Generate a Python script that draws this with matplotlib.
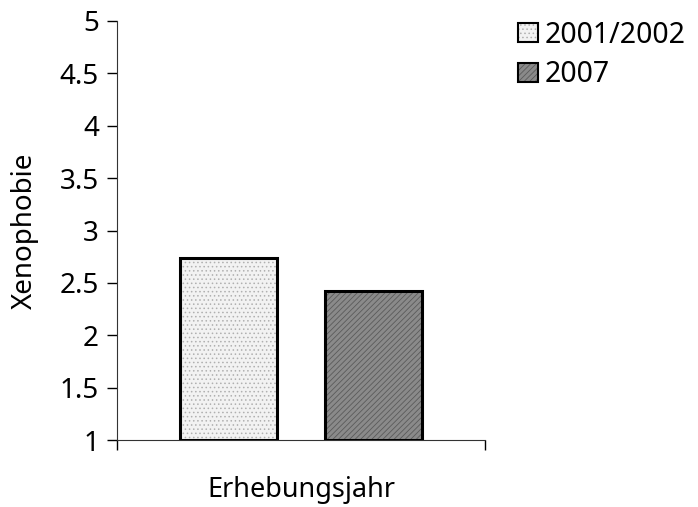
import matplotlib
matplotlib.use("Agg")
import matplotlib.pyplot as plt

# survey waves and mean xenophobia score
jahre = ["2001/2002", "2007"]
xenophobie = [2.74, 2.42]
y_ticks = [1, 1.5, 2, 2.5, 3, 3.5, 4, 4.5, 5]
y_ticklabels = ["1", "1.5", "2", "2.5", "3", "3.5", "4", "4.5", "5"]

plt.rcParams['font.family'] = ['Noto Sans', 'DejaVu Sans']
plt.rcParams['hatch.linewidth'] = 0.6

fig = plt.figure(figsize=(6.98, 5.07), dpi=100)
ax = fig.add_axes([0.1676, 0.1321, 0.5272, 0.8265])

positions = [-0.75, 0.75]
styles = [
    dict(facecolor="#f2f2f2", hatch="....", hatch_color="#b0b0b0"),
    dict(facecolor="#8a8a8a", hatch="//////", hatch_color="#5a5a5a"),
]
for pos, val, lab, st in zip(positions, xenophobie, jahre, styles):
    b = ax.bar(pos, val - 1, bottom=1, width=1.0, facecolor=st["facecolor"],
               edgecolor="black", linewidth=2.2, label=lab, zorder=3)
    for p in b:
        p.set_hatch(st["hatch"])
        p._hatch_color = matplotlib.colors.to_rgba(st["hatch_color"])

ax.set_xlim(-1.897, 1.897)
ax.set_ylim(1, 5)
ax.set_yticks(y_ticks)
ax.set_yticklabels(y_ticklabels, fontsize=20)
ax.set_xticks([-1.897, 1.897])
ax.set_xticklabels(["", ""])
ax.tick_params(axis='y', direction='out', length=7, width=1, pad=6)
ax.tick_params(axis='x', direction='out', length=7, width=1)

ax.spines['top'].set_visible(False)
ax.spines['right'].set_visible(False)
ax.spines['left'].set_color('#333333')
ax.spines['bottom'].set_color('#333333')

ax.set_ylabel("Xenophobie", fontsize=20)
ax.yaxis.set_label_coords(-0.213, 0.5)
ax.set_xlabel("Erhebungsjahr", fontsize=19.5)
ax.xaxis.set_label_coords(0.5, -0.085)

leg = ax.legend(loc='upper left', bbox_to_anchor=(1.06, 1.028), frameon=False,
                fontsize=20.5, handlelength=0.67, handleheight=0.67,
                handletextpad=0.25, labelspacing=0.38, borderaxespad=0)
for h in leg.legend_handles:
    h.set_linewidth(1.5)

fig.savefig("out.png", dpi=100)
